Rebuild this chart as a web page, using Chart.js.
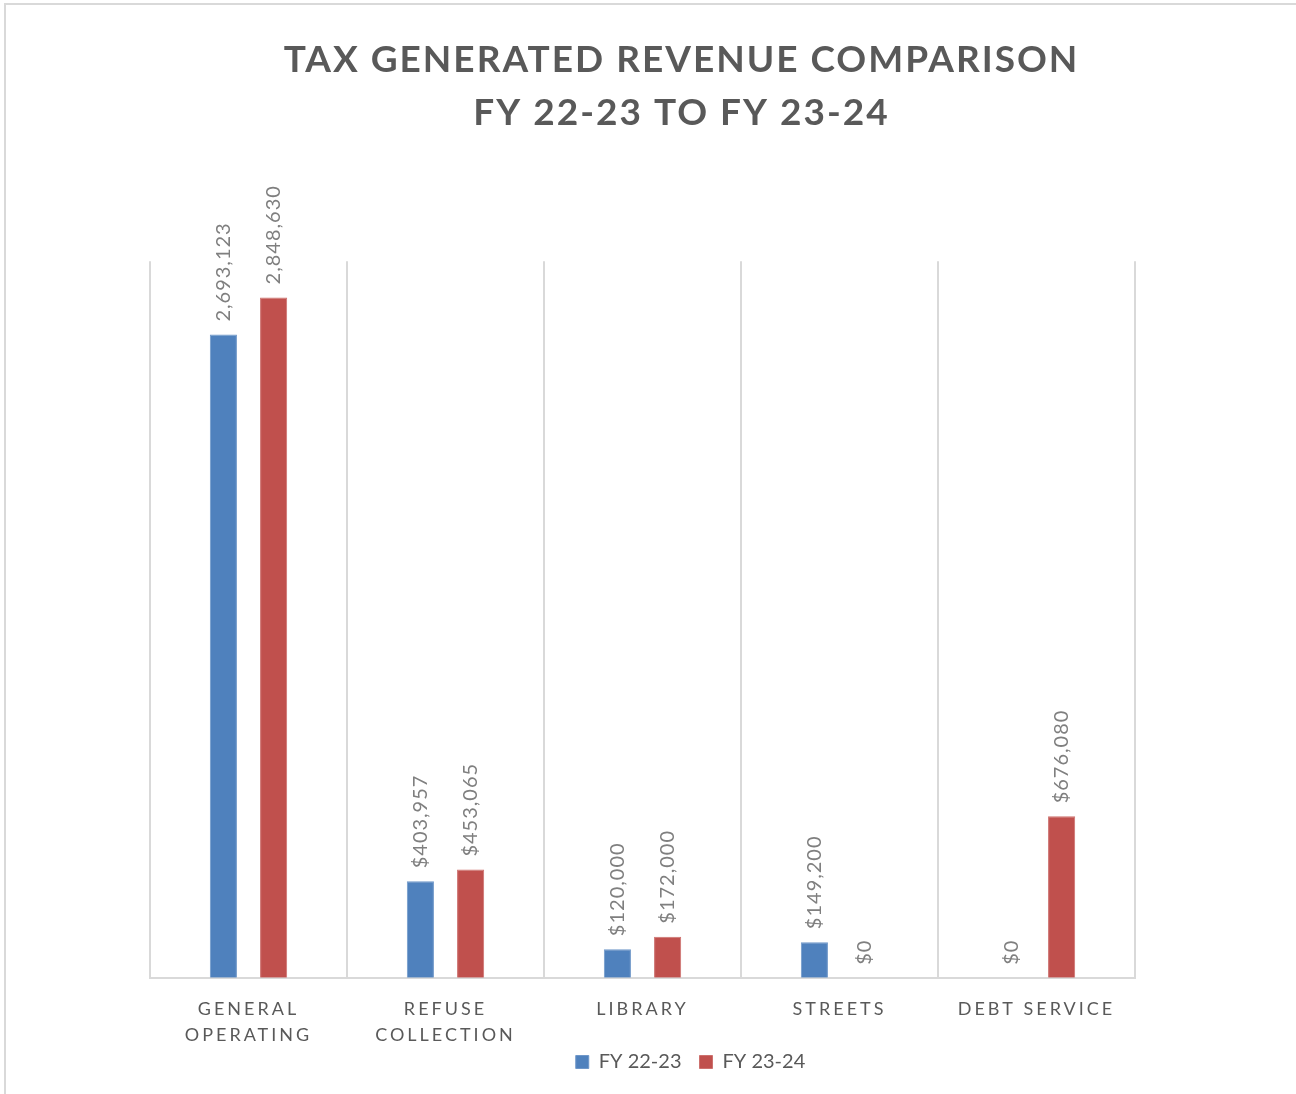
<!DOCTYPE html>
<html>
<head>
<meta charset="utf-8">
<title>Tax Generated Revenue Comparison</title>
<script src="https://cdn.jsdelivr.net/npm/chart.js@4.4.1/dist/chart.umd.min.js"></script>
<style>
  html, body { margin: 0; padding: 0; background: #ffffff; }
  #wrap { position: relative; width: 1296px; height: 1094px; }
  #frame {
    position: absolute; left: 4px; top: 3px; right: 0; bottom: 0;
    border-top: 2px solid #d9d9d9; border-left: 2px solid #d9d9d9;
    pointer-events: none;
  }
  canvas { display: block; }
</style>
</head>
<body>
<div id="wrap">
  <canvas id="chart" width="1296" height="1094"></canvas>
  <div id="frame"></div>
</div>
<script>
// Revenue categories (multi-line labels for the longer names)
const categories = [
  ['GENERAL', 'OPERATING'],
  ['REFUSE', 'COLLECTION'],
  'LIBRARY',
  'STREETS',
  'DEBT SERVICE'
];

// Tax generated revenue per fiscal year
const fy2223 = [2693123, 403957, 120000, 149200, 0];
const fy2324 = [2848630, 453065, 172000, 0, 676080];

// Value label prefix per category (the first group is shown without a dollar sign)
const labelPrefix = ['', '$', '$', '$', '$'];

const seriesNames = ['FY 22-23', 'FY 23-24'];
const titleLines = ['TAX GENERATED REVENUE COMPARISON', 'FY 22-23 TO FY 23-24'];
const yMax = 3000000;

const TEXT_GREY = '#595959';
const LABEL_GREY = '#7f7f7f';
const GRID_GREY = '#d9d9d9';
const FONT = "Lato, 'Open Sans', 'DejaVu Sans', sans-serif";

// Category axis that draws its labels with extra letter spacing, unclipped
class SpacedCategoryScale extends Chart.CategoryScale {
  _computeLabelArea() {
    return undefined;
  }
  drawLabels(area) {
    const ctx = this.ctx;
    ctx.save();
    ctx.letterSpacing = '3px';
    super.drawLabels(area);
    ctx.restore();
  }
}
SpacedCategoryScale.id = 'spacedCategory';
SpacedCategoryScale.defaults = Chart.CategoryScale.defaults;
Chart.register(SpacedCategoryScale);

// Wraps a layout box's draw with a horizontal shift and letter spacing
function adjustBoxDraw(box, shiftX, spacing) {
  if (!box || box._adjusted) return;
  const draw = box.draw.bind(box);
  box.draw = function (area) {
    const ctx = this.ctx;
    ctx.save();
    ctx.translate(shiftX, 0);
    ctx.letterSpacing = spacing;
    draw(area);
    ctx.restore();
  };
  box._adjusted = true;
}

// Title and legend sit a little right of the plot centre
const headerFooterPlacement = {
  id: 'headerFooterPlacement',
  beforeDraw(chart) {
    adjustBoxDraw(chart.titleBlock, 39, '2px');
    adjustBoxDraw(chart.legend, 48, '0px');
  }
};

// Rotated value labels above every bar
const barValueLabels = {
  id: 'barValueLabels',
  afterDatasetsDraw(chart) {
    const ctx = chart.ctx;
    ctx.save();
    ctx.font = '20px ' + FONT;
    ctx.fillStyle = LABEL_GREY;
    ctx.textAlign = 'left';
    ctx.textBaseline = 'middle';
    ctx.letterSpacing = '1px';
    chart.data.datasets.forEach((ds, di) => {
      chart.getDatasetMeta(di).data.forEach((bar, i) => {
        const text = labelPrefix[i] + ds.data[i].toLocaleString('en-US');
        ctx.save();
        ctx.translate(bar.x, bar.y - 13);
        ctx.rotate(-Math.PI / 2);
        ctx.fillText(text, 0, 0);
        ctx.restore();
      });
    });
    ctx.restore();
  }
};

Chart.defaults.font.family = FONT;
Chart.defaults.color = TEXT_GREY;

new Chart(document.getElementById('chart'), {
  type: 'bar',
  data: {
    labels: categories,
    datasets: [
      {
        label: seriesNames[0],
        data: fy2223,
        backgroundColor: '#4f81bd',
        borderColor: '#6f97c9',
        borderWidth: 1,
        categoryPercentage: 0.51,
        barPercentage: 0.54
      },
      {
        label: seriesNames[1],
        data: fy2324,
        backgroundColor: '#c0504d',
        borderColor: '#cd716e',
        borderWidth: 1,
        categoryPercentage: 0.51,
        barPercentage: 0.54
      }
    ]
  },
  options: {
    responsive: false,
    animation: false,
    devicePixelRatio: 1,
    layout: { padding: { left: 150, right: 161, top: 0, bottom: 12 } },
    scales: {
      x: {
        type: 'spacedCategory',
        grid: {
          display: true,
          offset: true,
          color: GRID_GREY,
          lineWidth: 2,
          drawTicks: false
        },
        border: { display: true, color: GRID_GREY, width: 2 },
        ticks: {
          color: TEXT_GREY,
          font: { size: 18, lineHeight: 1.45 },
          padding: 18,
          maxRotation: 0,
          autoSkip: false
        },
        // second label lines may extend into the space reserved above the legend
        afterFit(scale) { scale.height -= 32; }
      },
      y: {
        display: false,
        min: 0,
        max: yMax
      }
    },
    plugins: {
      title: {
        display: true,
        text: titleLines,
        color: TEXT_GREY,
        font: { size: 37, weight: 'bold', lineHeight: 1.45 },
        padding: { top: 33, bottom: 121 }
      },
      legend: {
        display: true,
        position: 'bottom',
        labels: {
          color: TEXT_GREY,
          font: { size: 20 },
          boxWidth: 13,
          boxHeight: 13,
          padding: 18
        }
      },
      tooltip: { enabled: false }
    }
  },
  plugins: [headerFooterPlacement, barValueLabels]
});
</script>
</body>
</html>
